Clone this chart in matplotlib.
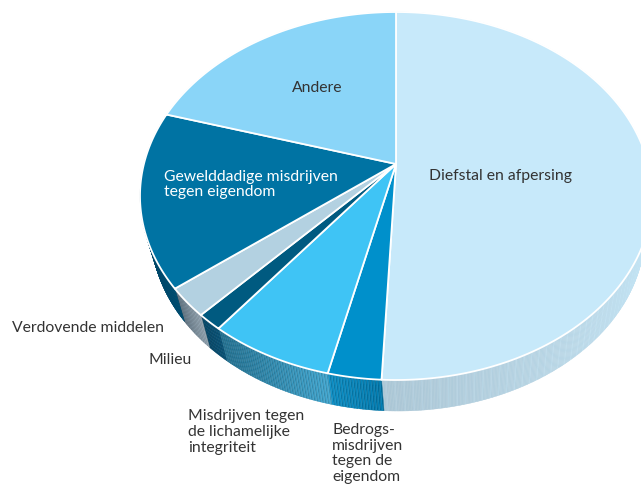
import numpy as np
import matplotlib
matplotlib.use("Agg")
import matplotlib.pyplot as plt
from matplotlib.colors import to_rgb

# aandeel per categorie, met de klok mee vanaf boven (%)
categories = ["Diefstal en afpersing", "Bedrogsmisdrijven", "Misdrijven tegen de lichamelijke integriteit",
              "Milieu", "Verdovende middelen", "Gewelddadige misdrijven tegen eigendom", "Andere"]
shares = [50.9, 3.4, 7.9, 1.6, 2.8, 15.7, 17.7]

top_colors = ["#C7E9FA", "#0090CB", "#3FC4F5", "#005A80", "#B3D1E1", "#0073A3", "#8AD5F8"]
# kleur van de zijkant: begin en eind van elk stuk
side_colors = [("#A9C7D9", "#A9C4D3"), ("#0070A0", "#0A82B4"), ("#3A98BE", "#1C6786"),
               ("#01486B", "#013F5E"), ("#8898A4", "#5C6E7B"), ("#004A6C", "#00415E"), ("#8AD5F8", "#8AD5F8")]

W, H = 641, 485

# ellips boven en onder, en de punt waar de stukken samenkomen (perspectief)
top_c = (396, 197)
top_r = (256, 184)
bot_c = (398, 232)
bot_r = (247, 180)
apex = (396, 165)


def ell(t, c, r):
    return c[0] + r[0] * np.sin(t), c[1] - r[1] * np.cos(t)


def lerp(a, b, f):
    a, b = np.array(to_rgb(a)), np.array(to_rgb(b))
    return a + (b - a) * f


fig = plt.figure(figsize=(W / 100, H / 100), dpi=100)
ax = fig.add_axes([0, 0, 1, 1])
ax.set_xlim(0, W)
ax.set_ylim(H, 0)
ax.axis("off")

edges = np.cumsum([0] + shares) / sum(shares) * 2 * np.pi

# zijkant met smalle streepjes
for i in range(len(shares)):
    a, b = edges[i], edges[i + 1]
    if a > np.radians(300):
        continue
    n = max(int((b - a) * 170), 2)
    ts = np.linspace(a, b, n + 1)
    for k in range(n):
        f = k / n
        if i == 0:
            # diefstal: licht in het midden, donkerder aan de randen
            mid = 0.5
            col = lerp("#A9C4D3", "#C7E8F8", 1 - abs(f - mid) / mid * 0.95)
            col = col * (1.0 if k % 6 else 1.03)
        else:
            col = lerp(side_colors[i][0], side_colors[i][1], f)
            col = col * (1.12 if k % 2 else 0.94)
        col = np.clip(col, 0, 1)
        x1, y1 = ell(ts[k:k + 2], top_c, top_r)
        x2, y2 = ell(ts[k:k + 2], bot_c, bot_r)
        ax.fill([x1[0], x1[1], x2[1], x2[0]], [y1[0], y1[1], y2[1], y2[0]],
                color=col, lw=0.3, zorder=1)

# bovenkant
for i in range(len(shares)):
    ts = np.linspace(edges[i], edges[i + 1], 200)
    x, y = ell(ts, top_c, top_r)
    ax.fill(np.r_[apex[0], x], np.r_[apex[1], y], facecolor=top_colors[i],
            edgecolor="white", lw=1.3, joinstyle="round", zorder=2)

font = dict(family="Lato", fontsize=11.3, color="#333333", va="center", linespacing=1.16)
ax.text(292, 88.5, "Andere", zorder=3, **font)
ax.text(429, 176.5, "Diefstal en afpersing", zorder=3, **font)
ax.text(164, 184.5, "Gewelddadige misdrijven\ntegen eigendom", zorder=3, **{**font, "color": "white"})
ax.text(12, 328.5, "Verdovende middelen", zorder=3, **font)
ax.text(148, 360.5, "Milieu", zorder=3, **font)
ax.text(188, 432, "Misdrijven tegen\nde lichamelijke\nintegriteit", zorder=3, **font)
ax.text(332, 453.5, "Bedrogs-\nmisdrijven\ntegen de\neigendom", zorder=3, **font)

fig.savefig("out.png", dpi=100)
